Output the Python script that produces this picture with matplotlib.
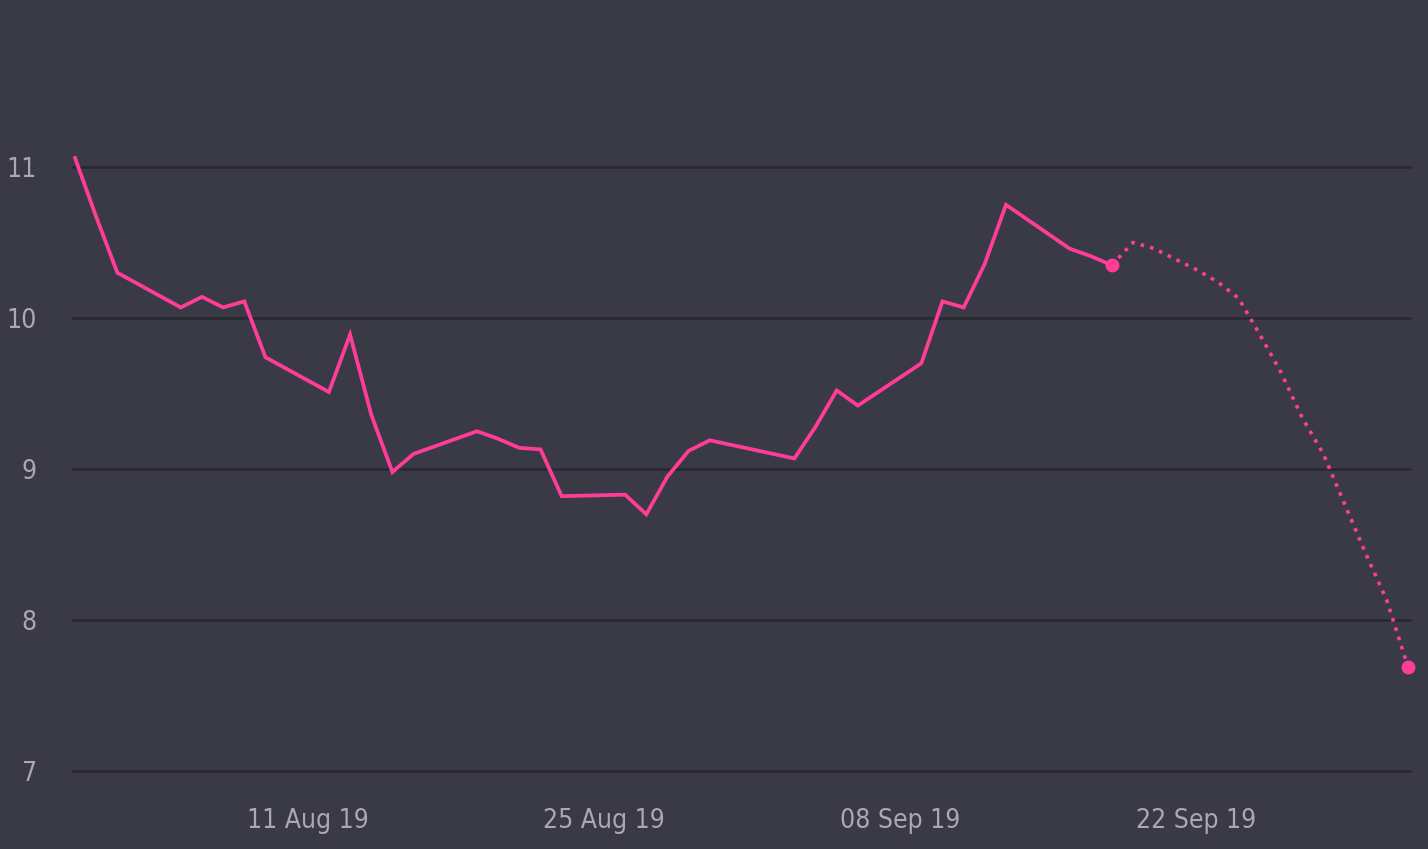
import numpy as np
import pandas as pd
import matplotlib
matplotlib.use("Agg")
import matplotlib.pyplot as plt
import matplotlib.dates as mdates

# historical values (business days)
hist_dates = ["2019-07-31", "2019-08-01", "2019-08-02", "2019-08-05", "2019-08-06",
              "2019-08-07", "2019-08-08", "2019-08-09", "2019-08-12", "2019-08-13",
              "2019-08-14", "2019-08-15", "2019-08-16", "2019-08-19", "2019-08-20",
              "2019-08-21", "2019-08-22", "2019-08-23", "2019-08-26", "2019-08-27",
              "2019-08-28", "2019-08-29", "2019-08-30", "2019-09-03", "2019-09-04",
              "2019-09-05", "2019-09-06", "2019-09-09", "2019-09-10", "2019-09-11",
              "2019-09-12", "2019-09-13", "2019-09-16", "2019-09-17", "2019-09-18"]
hist_vals = [11.06, 10.67, 10.30, 10.07, 10.14,
             10.07, 10.11, 9.74, 9.51, 9.89,
             9.36, 8.98, 9.10, 9.25, 9.20,
             9.14, 9.13, 8.82, 8.83, 8.70,
             8.95, 9.12, 9.19, 9.07, 9.28,
             9.52, 9.42, 9.70, 10.11, 10.07,
             10.36, 10.75, 10.46, 10.41, 10.35]

# forecast
fc_dates = ["2019-09-18", "2019-09-19", "2019-09-20", "2019-09-21", "2019-09-22",
            "2019-09-23", "2019-09-24", "2019-09-25", "2019-09-26", "2019-09-27",
            "2019-09-28", "2019-09-29", "2019-09-30", "2019-10-01", "2019-10-02"]
fc_vals = [10.35, 10.50, 10.46, 10.39, 10.32,
           10.24, 10.13, 9.89, 9.64, 9.34,
           9.10, 8.77, 8.44, 8.13, 7.69]

y_ticks = [7, 8, 9, 10, 11]
x_ticks = ["2019-08-11", "2019-08-25", "2019-09-08", "2019-09-22"]

bg = "#3a3946"
pink = "#ff3d97"
grid_c = "#29282f"
txt = "#a9a7b8"

plt.rcParams['font.family'] = ['DejaVu Sans']
plt.rcParams['font.stretch'] = 'condensed'

hd = pd.to_datetime(hist_dates)
fd = pd.to_datetime(fc_dates)

fig = plt.figure(figsize=(14.28, 8.49), dpi=100, facecolor=bg)
ax = fig.add_axes([73 / 1428, 78 / 849, (1410 - 73) / 1428, 771 / 849])
ax.set_facecolor(bg)

ax.plot(hd, hist_vals, color=pink, lw=2.7, solid_joinstyle="miter", zorder=3)
ax.plot(fd, fc_vals, color=pink, lw=2.6, linestyle=(0, (1, 1.7)), zorder=3)
ax.plot([fd[0], fd[-1]], [fc_vals[0], fc_vals[-1]], "o", color=pink, ms=9,
        zorder=4, clip_on=False)

ax.set_ylim(7, 7 + 771 / 151)
ax.set_xlim(pd.Timestamp("2019-07-31") - pd.Timedelta(hours=2.3),
            pd.Timestamp("2019-10-02") + pd.Timedelta(hours=2.3))

ax.set_yticks(y_ticks)
ax.set_yticklabels([str(v) for v in y_ticks])
ax.set_xticks(pd.to_datetime(x_ticks))
ax.xaxis.set_major_formatter(mdates.DateFormatter("%d %b %y"))

ax.grid(axis="y", color=grid_c, lw=1.8)
for gl in ax.get_ygridlines():
    gl.set_clip_on(False)
ax.set_axisbelow(True)
for s in ax.spines.values():
    s.set_visible(False)
ax.tick_params(axis="both", length=0, colors=txt, labelsize=19)
ax.tick_params(axis="y", pad=26)
ax.tick_params(axis="x", pad=27)

fig.savefig("out.png", dpi=100, facecolor=bg)
